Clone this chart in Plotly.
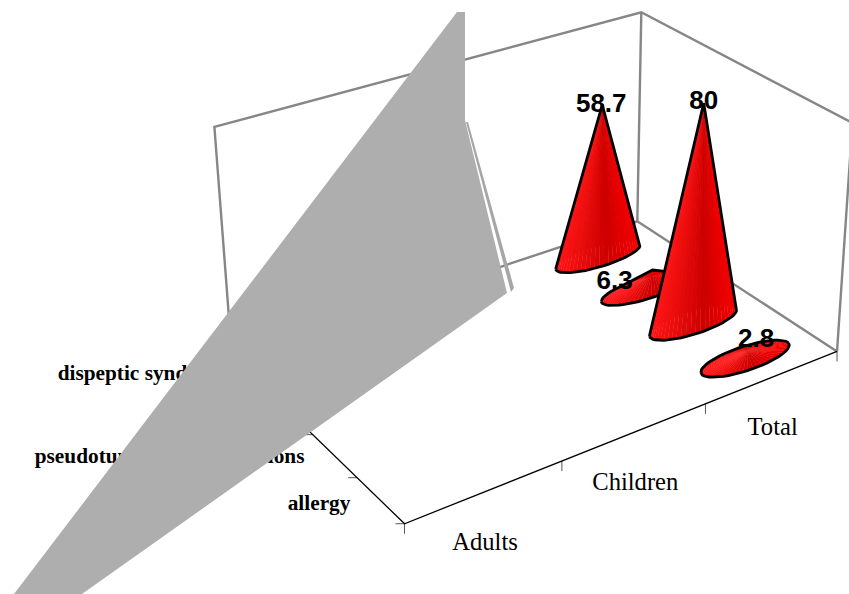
import numpy as np
import plotly.graph_objects as go

# ---- data ----
categories = ["Adults", "Children", "Total"]
series_labels = ["allergy", "pseudotumoral gastric lesions", "", "dispeptic syndrome"]
total_values = [2.8, 80, 6.3, 58.7]          # Total, one value per series
value_axis_max = 82

# ---- chart frame: (category pos, series pos, value fraction) -> page position ----
frame_anchors = [
    (0, 0, 0, 404, 523), (3, 0, 0, 836, 352), (3, 4, 0, 637, 220), (0, 4, 0, 232, 358),
    (0, 4, 1, 214, 127), (3, 4, 1, 642, 13), (3, 0, 1, 852, 122),
    (1, 0, 0, 562, 462), (2, 0, 0, 707, 405),
    (0, 1, 0, 358, 478), (0, 2, 0, 312, 432),
]
A, b = [], []
for X, Y, Z, px, py in frame_anchors:
    A.append([X, Y, Z, 1, 0, 0, 0, 0, -px * X, -px * Y, -px * Z]); b.append(px)
    A.append([0, 0, 0, 0, X, Y, Z, 1, -py * X, -py * Y, -py * Z]); b.append(py)
p = np.linalg.lstsq(np.array(A, float), np.array(b, float), rcond=None)[0]
P = np.append(p, 1.0).reshape(3, 4)


def proj(u, v, val=0.0):
    h = P @ np.array([u, v, val / value_axis_max, 1.0])
    return h[0] / h[2], h[1] / h[2]


fig = go.Figure()
FRAME = "#868686"


def line(pts, color=FRAME, width=2.4):
    fig.add_trace(go.Scatter(x=[q[0] for q in pts], y=[q[1] for q in pts], mode="lines",
                             line=dict(color=color, width=width), hoverinfo="skip"))


def poly(xs, ys, color):
    fig.add_trace(go.Scatter(x=list(xs), y=list(ys), mode="lines", fill="toself", fillcolor=color,
                             line=dict(width=0, color=color), hoverinfo="skip"))


def text(x, y, s, family, size, bold=False, pos="middle center"):
    fig.add_trace(go.Scatter(x=[x], y=[y], mode="text", text=[s], textposition=pos,
                             textfont=dict(family=family, size=size, color="black",
                                           weight="bold" if bold else "normal"),
                             hoverinfo="skip"))


# walls
V = value_axis_max
line([proj(0, 4, 0), proj(0, 4, V), proj(3, 4, V), proj(3, 0, V), proj(3, 0, 0)])
line([proj(3, 4, V), proj(3, 4, 0)])
line([proj(0, 4, 0), proj(3, 4, 0), proj(3, 0, 0)])

# axes and ticks
for u in range(4):
    x0, y0 = proj(u, 0)
    line([(x0, y0), (x0, y0 + 10)], "#555555", 1)
for v in range(4):
    x0, y0 = proj(0, v)
    line([(x0 - 9, y0), (x0, y0)], "#555555", 1)
line([proj(0, 4), proj(0, 0), proj(3, 0)], "black", 1.3)

# axis labels
for i, c in enumerate(categories):
    x0, y0 = proj(i + 0.5, 0)
    text(x0, y0 + 52, c, "Liberation Serif", 24.6)
series_label_offsets = [(-30, 4), (-30, 2), (-31, 2), (-17, 0)]
for j, s in enumerate(series_labels):
    if s:
        x0, y0 = proj(0, j + 0.5)
        dx, dy = series_label_offsets[j]
        text(x0 + dx, y0 + dy, s, "Liberation Serif", 21.3, True, "middle left")


def hull(points):
    pts = sorted(set(points))
    def half(seq):
        out = []
        for q in seq:
            while len(out) >= 2 and ((out[-1][0] - out[-2][0]) * (q[1] - out[-2][1])
                                     - (out[-1][1] - out[-2][1]) * (q[0] - out[-2][0])) <= 0:
                out.pop()
            out.append(q)
        return out[:-1]
    return half(pts) + half(pts[::-1])


def shade(s):
    if s < 0.62:
        f = s / 0.62
        return f"rgb({int(255 - 50 * f)},{int(22 - 22 * f)},{int(22 - 22 * f)})"
    f = (s - 0.62) / 0.38
    return f"rgb({int(205 + 40 * f)},0,0)"


# cones, back to front
RU, RV = 0.325, 0.23
N = 56
apex_lean = [0.01, 0.022, 0.06, 0.018]
for j in sorted(range(len(total_values)), key=lambda k: -k):
    val = total_values[j]
    cu, cv = 2.5, j + 0.5
    ts = np.linspace(0, 2 * np.pi, N + 1)
    rim = [proj(cu + RU * np.cos(t), cv + RV * np.sin(t)) for t in ts]
    apex = proj(cu + apex_lean[j], cv, val)
    outline = hull(rim[:-1] + [apex])
    poly([q[0] for q in outline] + [outline[0][0]], [q[1] for q in outline] + [outline[0][1]],
         "rgb(255,110,110)")
    xmin = min(q[0] for q in rim)
    xmax = max(q[0] for q in rim)
    order = sorted(range(N), key=lambda k: rim[k][1] + rim[k + 1][1])
    for k in order:
        mx = (rim[k][0] + rim[k + 1][0]) / 2
        poly([apex[0], rim[k][0], rim[k + 1][0], apex[0]],
             [apex[1], rim[k][1], rim[k + 1][1], apex[1]], shade((mx - xmin) / (xmax - xmin)))
    line(outline + outline[:1], "black", 2.8)

# value labels
value_label_offsets = [(9, -10), (0, -1), (-38, 12), (-1, 1)]
for j, val in enumerate(total_values):
    ax, ay = proj(2.5 + apex_lean[j], j + 0.5, val)
    dx, dy = value_label_offsets[j]
    text(ax + dx, ay + dy, f"{val:g}", "Liberation Sans", 26, True)

# grey overflow band of the clipped series, in page position
band_x = [457, 465, 465, 507, 82, 14]
band_y = [12, 12, 120, 293, 594, 594]
sliver_x = [466, 468, 514, 511]
sliver_y = [122, 122, 288, 292]
poly(sliver_x + sliver_x[:1], sliver_y + sliver_y[:1], "#a6a6a6")
poly(band_x + band_x[:1], band_y + band_y[:1], "#aeaeae")

fig.update_layout(width=849, height=594, margin=dict(l=0, r=0, t=0, b=0), showlegend=False,
                  paper_bgcolor="white", plot_bgcolor="white",
                  xaxis=dict(range=[0, 849], visible=False, fixedrange=True),
                  yaxis=dict(range=[594, 0], visible=False, fixedrange=True))
fig.write_html("out.html", config={"displayModeBar": False},
               post_script="document.body.style.margin='0';document.body.style.overflow='hidden';")
